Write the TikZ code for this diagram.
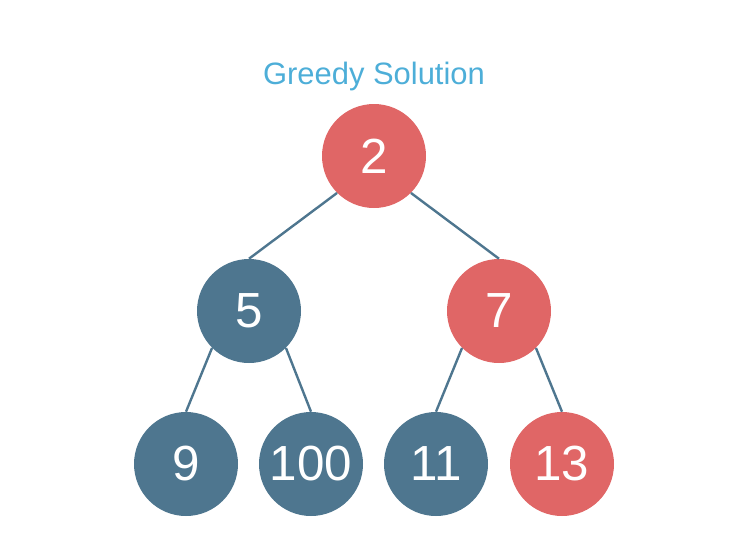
\documentclass[tikz,border=0pt]{standalone}
\usepackage{fontspec}
\setmainfont{Liberation Sans}
\definecolor{nred}{RGB}{224,102,102}
\definecolor{nblue}{RGB}{78,118,143}
\definecolor{ttl}{RGB}{77,174,216}
\tikzset{
  hnode/.style={circle,inner sep=0pt,minimum size=78pt,text=white,font=\fontsize{37}{37}\selectfont},
  rednode/.style={hnode,fill=nred},
  bluenode/.style={hnode,fill=nblue},
  edge/.style={draw=nblue,line width=1.8pt}
}
\begin{document}
\begin{tikzpicture}[x=0.75pt,y=-0.75pt]
\useasboundingbox (0,0) rectangle (744,558);
\node[text=ttl,font=\fontsize{23.2}{23.2}\selectfont,anchor=base] (title) at (374,84) {Greedy Solution};
\node[rednode] (n2) at (374,156) {2};
\node[bluenode] (n5) at (249,311) {5};
\node[rednode] (n7) at (499,311) {7};
\node[bluenode] (n9) at (186,464) {9};
\node[bluenode] (n100) at (311,464) {100};
\node[bluenode] (n11) at (436,464) {11};
\node[rednode] (n13) at (562,464) {13};
\draw[edge] (n2.south west) -- (n5.north);
\draw[edge] (n2.south east) -- (n7.north);
\draw[edge] (n5.south west) -- (n9.north);
\draw[edge] (n5.south east) -- (n100.north);
\draw[edge] (n7.south west) -- (n11.north);
\draw[edge] (n7.south east) -- (n13.north);
\end{tikzpicture}
\end{document}
